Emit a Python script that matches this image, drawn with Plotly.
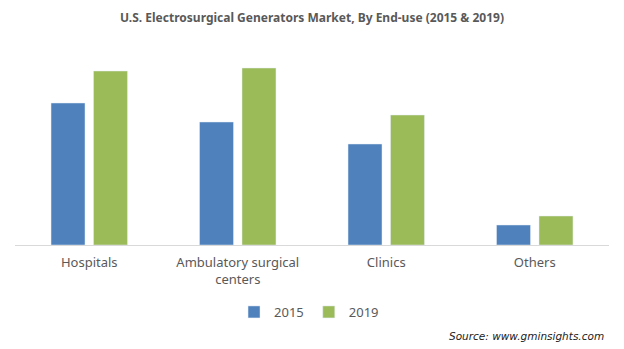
import plotly.graph_objects as go

categories = ["Hospitals", "Ambulatory surgical<br>centers", "Clinics", "Others"]
values_2015 = [142, 123, 101, 20]
values_2019 = [174, 177, 130, 29]
series_names = ["2015", "2019"]

fig = go.Figure()
fig.add_trace(go.Bar(x=categories, y=values_2015, name=series_names[0], marker_color="#4F81BD"))
fig.add_trace(go.Bar(x=categories, y=values_2019, name=series_names[1], marker_color="#9BBB59"))

fig.update_layout(
    width=624, height=349,
    margin=dict(l=15, r=15, t=45, b=104),
    paper_bgcolor="white", plot_bgcolor="white",
    barmode="group", bargap=0.428, bargroupgap=0.2,
    title=dict(text="<b>U.S. Electrosurgical Generators Market, By End-use (2015 & 2019)</b>",
               x=0.5, xanchor="center", y=1 - 18 / 349, yanchor="middle",
               font=dict(family="Noto Sans", size=12, color="#595959")),
    font=dict(family="Noto Sans", size=13, color="#595959"),
    xaxis=dict(showline=True, linecolor="#d9d9d9", linewidth=1, ticks="",
               ticklabelstandoff=5,
               tickfont=dict(family="Noto Sans", size=13, color="#595959"), showgrid=False),
    yaxis=dict(range=[0, 200], visible=False, showgrid=False),
    legend=dict(orientation="h", x=0.495, xanchor="center", y=-0.335, yanchor="middle",
                font=dict(family="Noto Sans", size=13, color="#595959"), itemwidth=30),
    showlegend=True,
)
fig.add_annotation(text="<i>Source: www.gminsights.com</i>", xref="paper", yref="paper",
                   x=0.995, y=-0.455, xanchor="right", yanchor="middle", showarrow=False,
                   font=dict(family="DejaVu Sans", size=10.5, color="#222222"))
fig.write_html("out.html")
